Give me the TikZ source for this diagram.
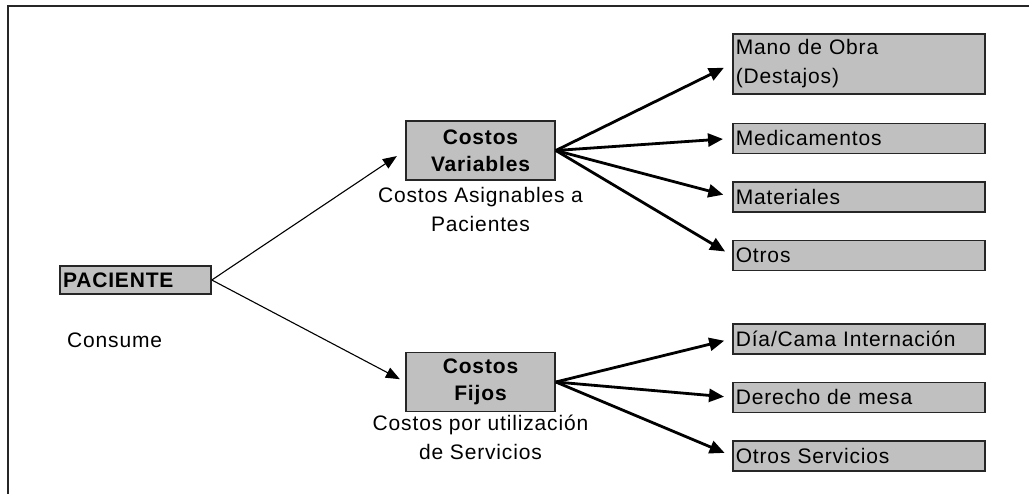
\documentclass[tikz,border=0pt]{standalone}
\usepackage{fontspec}
\setmainfont{Liberation Sans}[LetterSpace=4]
\usetikzlibrary{arrows.meta,positioning}
\definecolor{BoxGray}{RGB}{192,192,192}
\definecolor{EdgeGray}{RGB}{38,38,38}

\begin{document}
\begin{tikzpicture}[x=1pt,y=-1pt,node distance=27pt,every node/.style={font=\fontsize{21pt}{29pt}\selectfont}]
\tikzset{graybox/.style={draw=EdgeGray,line width=1.6pt,fill=BoxGray,inner sep=0pt},
  costbox/.style={graybox,minimum width=149pt,minimum height=59pt,align=center,font=\fontsize{21pt}{27pt}\selectfont\bfseries},
  itembox/.style={graybox,minimum height=30pt,text width=246pt,inner xsep=3pt,align=left},
  note/.style={inner sep=0pt,align=center},
  feed/.style={-{Triangle[length=14pt,width=11pt]},line width=1.1pt},
  branch/.style={-{Triangle[length=15pt,width=13pt]},line width=2.8pt}}
\useasboundingbox (0,0) rectangle (1029,494);
\draw[EdgeGray,line width=2pt] (8,494) |- (1029,6);
% patient and the two cost groups
\node[graybox,minimum height=28pt,text width=145pt,inner xsep=3pt,align=left,font=\fontsize{21pt}{29pt}\selectfont\bfseries] (pac) at (135.5,280) {PACIENTE};
\node[anchor=west,inner sep=0pt] (consume) at (67,340) {Consume};
\node[costbox] (var) at (480.5,150.5) {Costos\\Variables};
\node[note,below=6pt of var] (varnote) {Costos Asignables a\\Pacientes};
\node[costbox] (fix) at (480.5,382) {Costos\\Fijos};
\node[note,below=3pt of fix] (fixnote) {Costos por utilización\\de Servicios};
% items of each group
\node[itembox,minimum height=60pt,anchor=north west] (mano) at (732,33) {Mano de Obra\\(Destajos)};
\node[itembox,below=28pt of mano] (med) {Medicamentos};
\node[itembox,below=of med] (mat) {Materiales};
\node[itembox,below=of mat] (otros) {Otros};
\node[itembox,anchor=north west] (dia) at (732,323) {Día/Cama Internación};
\node[itembox,below=of dia] (mesa) {Derecho de mesa};
\node[itembox,below=of mesa] (serv) {Otros Servicios};
\draw[feed,shorten >=10pt](pac.east)--(var.west); \draw[feed,shorten >=6pt](pac.east)--(fix.west);
\draw[branch,shorten >=9pt](var.east)--(mano.west); \draw[branch,shorten >=9pt](var.east)--(med.west); \draw[branch,shorten >=9pt](var.east)--(mat.west); \draw[branch,shorten >=8pt](var.east)--(otros.west);
\draw[branch,shorten >=8pt](fix.east)--(dia.west); \draw[branch,shorten >=8pt](fix.east)--(mesa.west); \draw[branch,shorten >=8pt](fix.east)--(serv.west);
\end{tikzpicture}
\end{document}
